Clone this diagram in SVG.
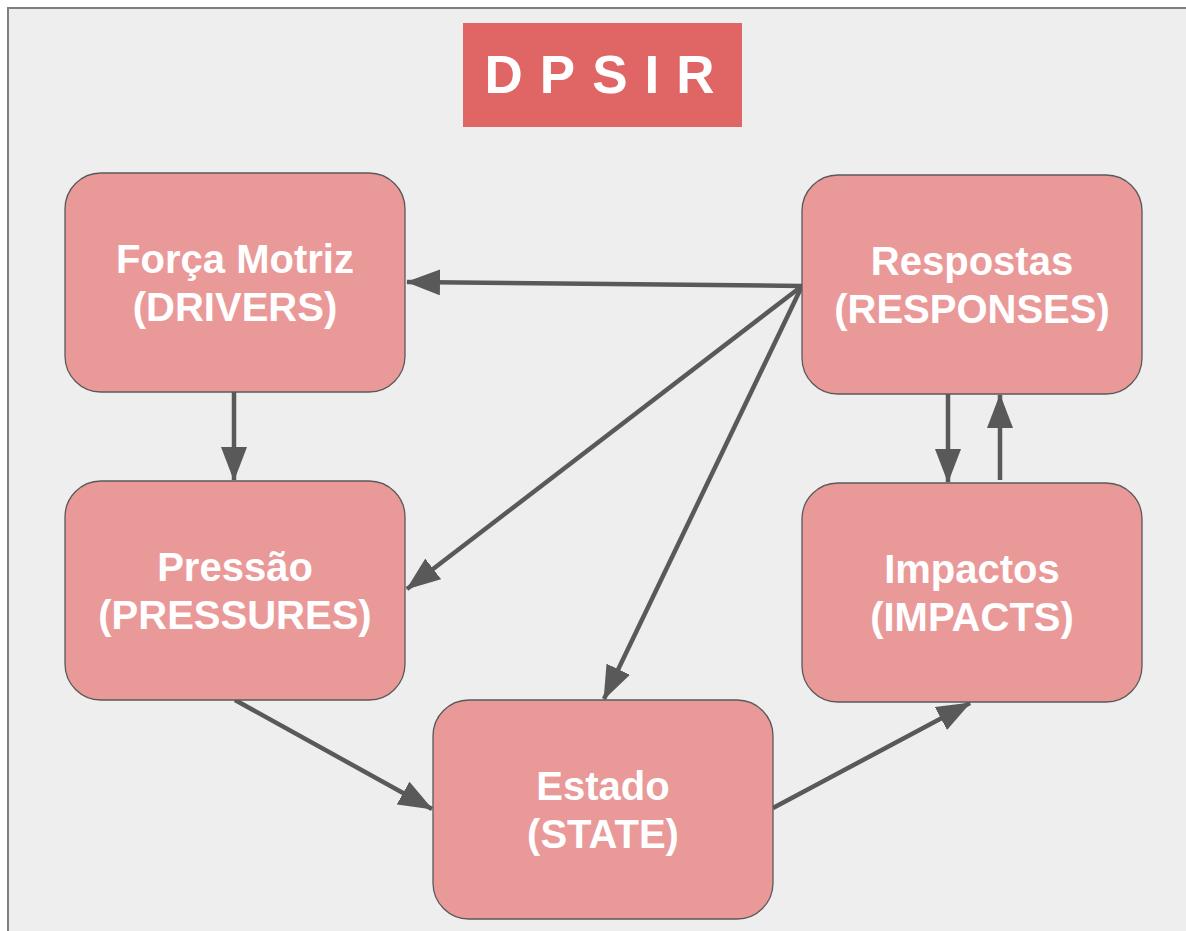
<svg xmlns="http://www.w3.org/2000/svg" width="1186" height="931" viewBox="0 0 1186 931">
<style>
.node rect{fill:#ea9999;stroke:#595959;stroke-width:1.3}
.node text{fill:#ffffff;font-family:"Liberation Sans",Arial,sans-serif;font-weight:bold;font-size:40px;text-anchor:middle}
.edge{stroke:#595959;stroke-width:4.5;fill:none;marker-end:url(#ah)}
</style>
<defs>
<marker id="ah" markerUnits="userSpaceOnUse" markerWidth="34" markerHeight="26" viewBox="0 0 34 26" refX="33" refY="13" orient="auto">
<path d="M0,0 L34,13 L0,26 Z" fill="#595959"/>
</marker>
</defs>
<rect x="0" y="0" width="1186" height="931" fill="#ffffff"/>
<rect x="8" y="8" width="1190" height="935" fill="#eeeeee" stroke="#7f7f7f" stroke-width="2"/>
<g id="title">
<rect x="463" y="23" width="279" height="104" fill="#e06666"/>
<text x="608" y="93" fill="#ffffff" font-family="Liberation Sans,Arial,sans-serif" font-weight="bold" font-size="53" text-anchor="middle" letter-spacing="17">DPSIR</text>
</g>
<g id="connectors">
<line class="edge" x1="802" y1="286" x2="407" y2="282"/>
<line class="edge" x1="802" y1="286" x2="407" y2="589"/>
<line class="edge" x1="802" y1="286" x2="604" y2="699"/>
<line class="edge" x1="234" y1="392" x2="234" y2="480"/>
<line class="edge" x1="948" y1="393" x2="948" y2="482"/>
<line class="edge" x1="1000" y1="480" x2="1000" y2="395"/>
<line class="edge" x1="235" y1="700" x2="432" y2="809"/>
<line class="edge" x1="773" y1="808" x2="970" y2="703"/>
</g>
<g id="drivers" class="node">
<rect x="65" y="173" width="340" height="219" rx="36"/>
<text x="235" y="273">Força Motriz</text>
<text x="235" y="321">(DRIVERS)</text>
</g>
<g id="responses" class="node">
<rect x="802" y="175" width="340" height="219" rx="36"/>
<text x="972" y="275">Respostas</text>
<text x="972" y="323">(RESPONSES)</text>
</g>
<g id="pressures" class="node">
<rect x="65" y="481" width="340" height="219" rx="36"/>
<text x="235" y="581">Pressão</text>
<text x="235" y="629">(PRESSURES)</text>
</g>
<g id="impacts" class="node">
<rect x="802" y="483" width="340" height="219" rx="36"/>
<text x="972" y="583">Impactos</text>
<text x="972" y="631">(IMPACTS)</text>
</g>
<g id="state" class="node">
<rect x="433" y="700" width="340" height="219" rx="36"/>
<text x="603" y="800">Estado</text>
<text x="603" y="848">(STATE)</text>
</g>
</svg>
